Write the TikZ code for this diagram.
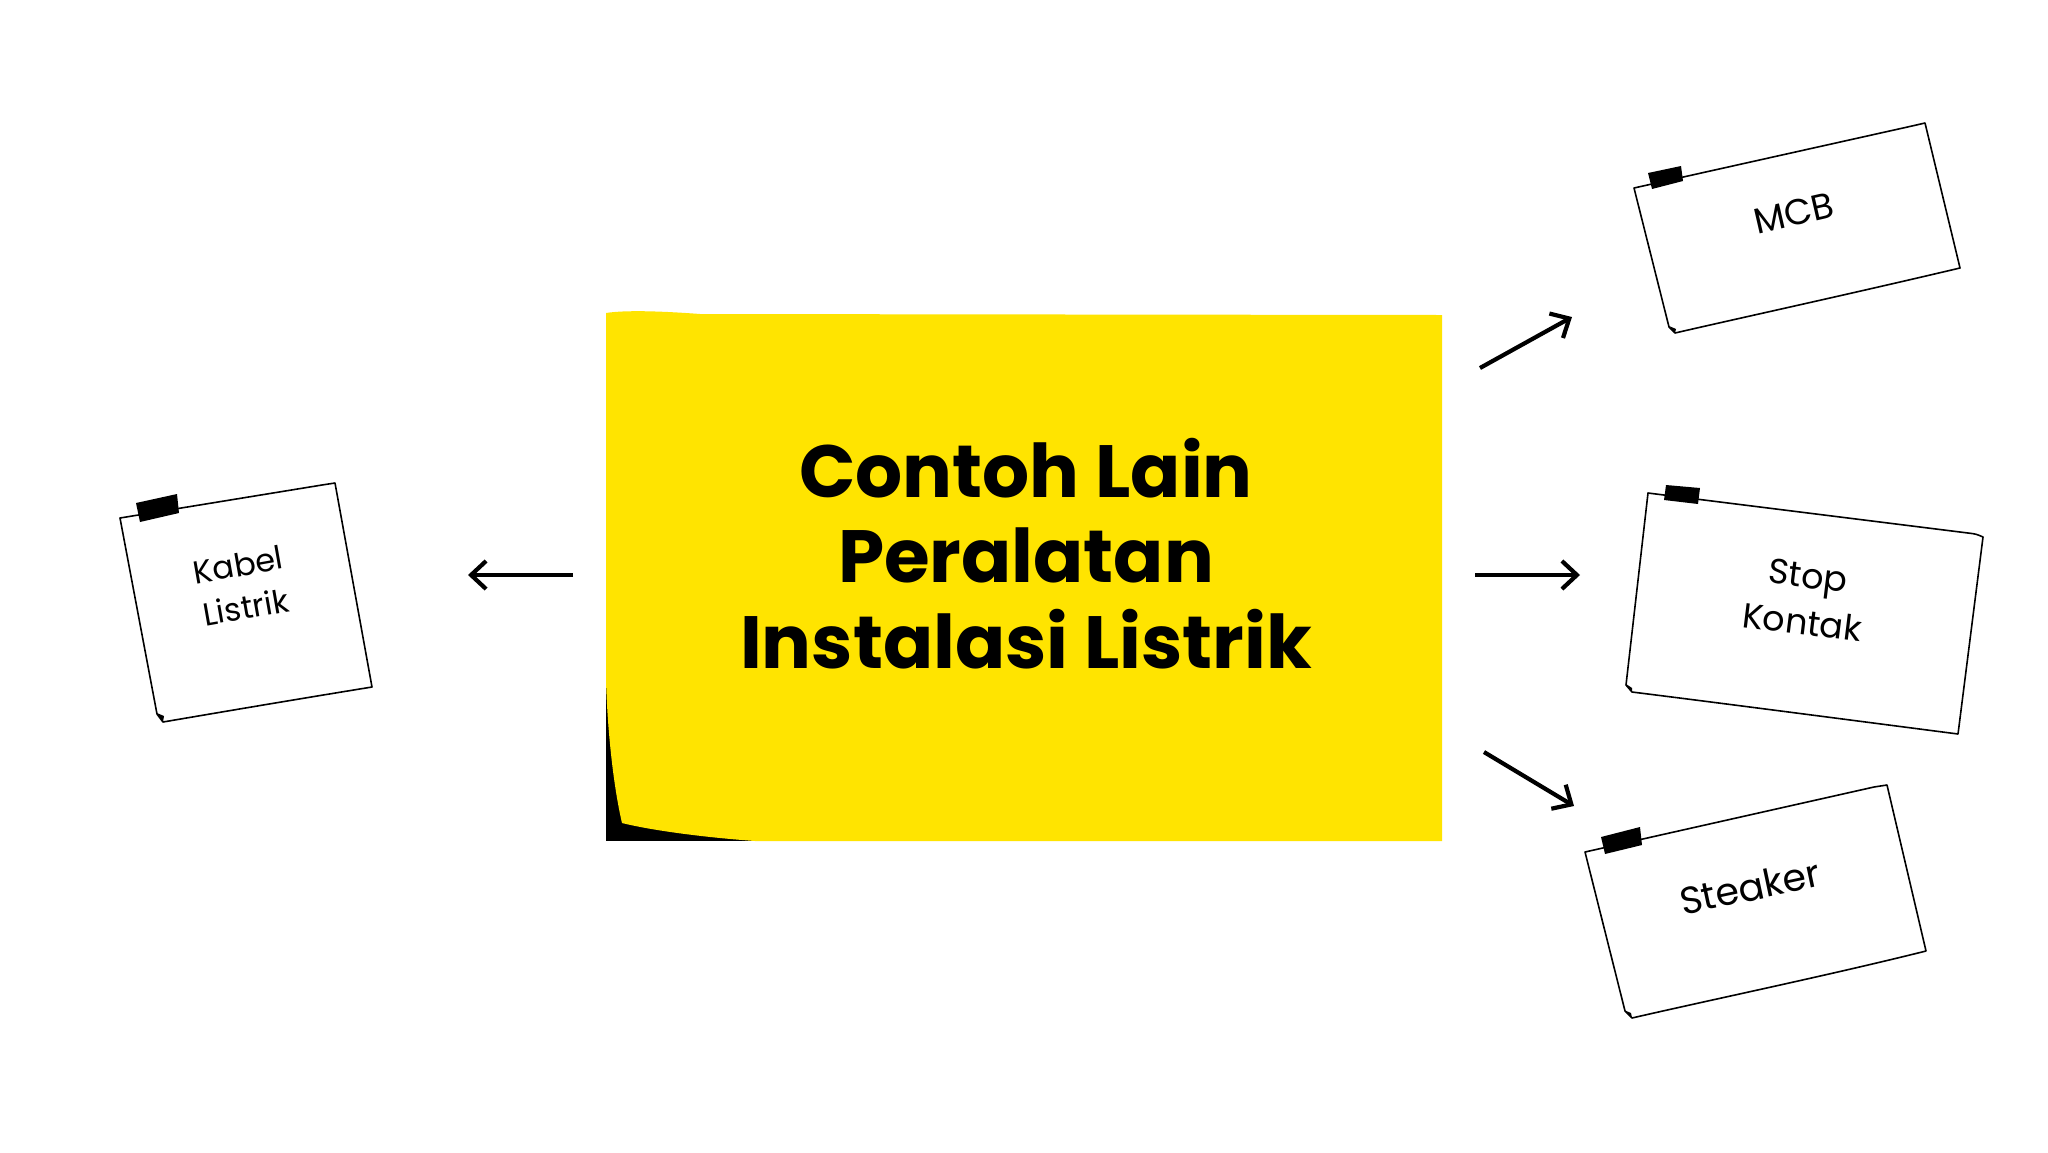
\documentclass[tikz,border=0pt]{standalone}
\usepackage{fontspec}
\setmainfont{Poppins}
\usetikzlibrary{arrows.meta}
\definecolor{postit}{RGB}{255,228,0}
\begin{document}
\begin{tikzpicture}[x=1pt,y=-1pt,
  note/.style={draw=black,fill=white,line width=1.6pt,line join=round},
  tape/.style={fill=black},
  curl/.style={fill=black},
  notetext/.style={align=center,font=\fontsize{32}{43}\selectfont,inner sep=0pt},
  titletext/.style={anchor=base,font=\bfseries\fontsize{74}{86}\selectfont,inner sep=0pt},
  link/.style={line width=4.2pt,-{Straight Barb[length=15pt,width=28pt]}}]
\useasboundingbox[fill=white] (0,0) rectangle (2048,1152);

% central post-it
\fill[black] (606,680) rectangle (760,841);
\fill[postit] (606,313) .. controls (625,310) and (660,311) .. (700,314) -- (1442,315)
  -- (1442,841) -- (755,841) .. controls (700,837) and (650,830) .. (622,823)
  .. controls (612,780) and (607,720) .. (606,680) -- cycle;
\node[titletext] (t1) at (1026,497) {Contoh Lain};
\node[titletext] (t2) at (1026,582) {Peralatan};
\node[titletext] (t3) at (1026,668) {Instalasi Listrik};

% note: Kabel Listrik
\draw[note] (120,518) -- (322,485) .. controls (328,484) .. (335,483) -- (372,687)
  .. controls (280,702) and (210,714) .. (163,722) -- (157,714) -- cycle;
\fill[curl] (157,713) -- (164,716) -- (163,722) -- cycle;
\fill[tape] (136,503) -- (177,494) -- (179,513) -- (140,522) -- cycle;
\node[notetext,rotate=10] (kabel) at (242,586) {Kabel\\Listrik};

% note: MCB
\draw[note] (1634,188) -- (1912,126) .. controls (1919,124) .. (1925,123) -- (1960,268)
  .. controls (1850,294) and (1740,318) .. (1675,333) -- (1669,327) -- cycle;
\fill[curl] (1669,326) -- (1676,329) -- (1675,333) -- cycle;
\fill[tape] (1648,173) -- (1681,166) -- (1683,181) -- (1652,189) -- cycle;
\node[notetext,rotate=13,font=\fontsize{36}{43}\selectfont] (mcb) at (1794,213) {MCB};

% note: Stop Kontak
\draw[note] (1648,493) -- (1968,533) .. controls (1976,534) .. (1983,537) -- (1958,734)
  .. controls (1850,720) and (1720,703) .. (1632,692) -- (1626,685) -- cycle;
\fill[curl] (1626,684) -- (1632,688) -- (1632,692) -- cycle;
\fill[tape] (1666,485) -- (1700,488) -- (1698,504) -- (1664,500) -- cycle;
\node[notetext,rotate=-7,font=\fontsize{35}{47}\selectfont] (stop) at (1805,599) {Stop\\Kontak};

% note: Steaker
\draw[note] (1585,852) -- (1874,787) .. controls (1881,786) .. (1887,785) -- (1926,951)
  .. controls (1830,975) and (1710,1000) .. (1632,1018) -- (1625,1011) -- cycle;
\fill[curl] (1624,1010) -- (1631,1013) -- (1632,1018) -- cycle;
\fill[tape] (1601,837) -- (1640,827) -- (1642,845) -- (1605,854) -- cycle;
\node[notetext,rotate=12,font=\fontsize{38}{46}\selectfont] (steaker) at (1750,887) {Steaker};

% arrows
\coordinate (aL1) at (573,575); \coordinate (aL2) at (468,575);
\coordinate (aU1) at (1480,368); \coordinate (aU2) at (1572,317);
\coordinate (aM1) at (1475,575); \coordinate (aM2) at (1580,575);
\coordinate (aD1) at (1484,752); \coordinate (aD2) at (1574,806);
\draw[link] (aL1) -- (aL2);
\draw[link] (aU1) -- (aU2);
\draw[link] (aM1) -- (aM2);
\draw[link] (aD1) -- (aD2);
\end{tikzpicture}
\end{document}
